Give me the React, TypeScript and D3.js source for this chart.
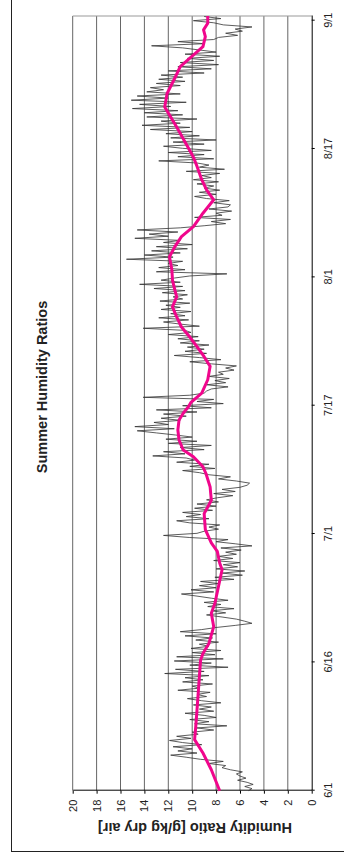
import React, { useRef, useEffect } from 'react';
import * as d3 from 'd3';

// hourly-ish humidity ratio, read at 6 hour steps from 6/1 00:00 (g/kg dry air)
const humidity: number[] = [
  5.3, 5.0, 5.6, 4.9, 5.4, 6.2, 5.5, 6.0, 6.3, 5.8, 6.8, 7.5, 7.2, 8.6, 7.4, 9.3,
  10.5, 11.8, 9.6, 11.2, 10.0, 11.6, 9.2, 10.8, 11.9, 10.1, 11.3, 9.5, 10.0, 8.2, 9.6, 7.1,
  9.8, 8.6, 10.2, 8.0, 9.0, 10.6, 8.2, 9.4, 8.4, 9.9, 7.6, 9.2, 10.4, 8.8, 9.6, 8.5,
  11.2, 9.4, 10.0, 8.3, 10.8, 9.1, 10.6, 8.6, 12.3, 9.0, 11.4, 7.0, 10.2, 8.4, 11.5, 7.4,
  11.3, 8.1, 10.0, 7.6, 10.1, 8.6, 9.4, 7.8, 9.7, 8.3, 10.6, 8.0, 11.0, 9.2, 8.0, 6.4,
  5.0, 5.6, 6.3, 7.5, 8.8, 7.2, 8.4, 6.5, 8.7, 7.6, 9.0, 7.0, 8.4, 9.6, 10.9, 8.2,
  10.1, 8.0, 9.4, 7.8, 9.3, 6.5, 8.1, 5.8, 7.5, 5.6, 8.0, 6.2, 7.4, 6.0, 8.2, 6.6,
  7.8, 6.3, 7.2, 5.9, 7.6, 5.0, 6.4, 8.0, 7.0, 10.2, 12.4, 9.6, 9.0, 7.8, 8.6, 7.7,
  10.2, 11.3, 8.6, 10.5, 9.3, 10.8, 8.3, 9.8, 8.0, 9.6, 7.8, 8.8, 7.9, 6.6, 8.2, 6.4,
  7.5, 6.0, 5.4, 5.2, 6.3, 7.8, 6.8, 8.6, 9.4, 10.8, 8.1, 10.2, 8.6, 11.3, 9.8, 10.5,
  13.3, 10.6, 12.4, 9.0, 11.0, 8.4, 12.0, 9.6, 12.2, 10.0, 11.4, 13.0, 14.6, 11.5, 14.8, 12.0,
  13.2, 11.0, 12.6, 10.5, 12.4, 9.6, 13.0, 8.4, 10.8, 7.4, 9.6, 8.2, 14.1, 10.2, 9.0, 8.8,
  8.4, 7.0, 8.8, 7.2, 8.1, 6.9, 8.6, 7.4, 7.8, 6.5, 7.2, 6.3, 8.4, 10.2, 7.6, 9.4,
  11.5, 8.8, 10.6, 9.0, 10.4, 8.6, 11.0, 9.4, 11.2, 9.5, 12.0, 10.1, 10.6, 14.1, 9.4, 11.0,
  12.4, 10.3, 12.8, 10.6, 11.8, 10.1, 12.6, 11.0, 12.2, 10.2, 12.7, 10.8, 11.6, 10.4, 12.5, 10.6,
  13.2, 10.8, 14.4, 11.0, 12.6, 11.5, 10.2, 7.1, 13.0, 10.6, 12.8, 11.2, 12.0, 10.8, 15.5, 11.6,
  14.0, 11.0, 13.4, 10.4, 13.0, 10.0, 12.4, 11.0, 14.8, 12.0, 13.6, 11.2, 14.6, 11.0, 9.0, 7.2,
  8.4, 6.8, 9.8, 7.5, 8.0, 6.7, 8.6, 7.0, 6.8, 8.2, 6.9, 8.8, 9.8, 8.0, 9.4, 7.7,
  9.0, 8.2, 9.6, 7.8, 9.9, 8.4, 9.2, 7.7, 10.5, 7.3, 9.4, 8.6, 9.6, 12.8, 8.2, 11.2,
  9.0, 12.0, 8.4, 10.8, 12.4, 9.0, 11.6, 8.0, 11.8, 9.4, 12.2, 10.0, 13.5, 10.2, 14.2, 11.0,
  12.6, 9.6, 13.8, 10.8, 14.0, 11.2, 15.0, 11.8, 14.4, 10.5, 15.1, 12.0, 14.6, 11.0, 13.8, 12.4,
  13.5, 11.0, 13.0, 10.6, 12.8, 10.8, 12.6, 9.0, 12.0, 8.4, 11.2, 7.8, 11.0, 8.2, 10.4, 7.7,
  10.6, 8.0, 9.4, 10.8, 13.4, 9.0, 11.2, 8.2, 7.8, 6.2, 7.2, 5.8, 6.4, 5.0, 7.4, 8.2,
  9.9, 7.6, 9.0,
];
const stepDays = 0.25;

// moving average (pink), days after 6/1
const avgDays: number[] = [
  0, 2.5, 4.5, 6.1, 7.7, 9.6, 11.6, 13.6, 15.6, 16.4, 17.6, 19.6, 21.2, 22.4, 24.4, 26.4,
  27.2, 28.6, 29.6, 31.2, 33.1, 33.9, 34.7, 36.3, 37.9, 38.7, 39.9, 40.7, 41.9, 43.1, 44.3,
  45.1, 45.9, 46.4, 47.5, 49.1, 50.7, 51.85, 53.05, 54.2, 55.4, 56.6, 57.8, 59.0, 59.8, 61.0,
  62.2, 63.8, 65.0, 66.2, 67.4, 69.0, 70.6, 71.8, 73.0, 74.6, 75.7, 77.0, 78.0, 79.3, 81.7,
  83.3, 85.3, 86.5, 87.7, 88.9, 90.1, 90.9, 91.7, 92.56,
];
const avgValues: number[] = [
  7.7, 8.4, 9.1, 9.8, 9.7, 9.6, 9.5, 9.4, 9.3, 9.1, 8.6, 8.2, 8.4, 8.1, 7.8, 7.5,
  7.7, 7.9, 8.4, 8.9, 9.0, 8.7, 8.4, 8.5, 8.85, 9.1, 9.9, 10.75, 11.1, 11.2, 11.1,
  10.75, 10.3, 10.1, 9.2, 8.7, 8.5, 9.0, 9.6, 10.2, 10.9, 11.3, 11.65, 11.3, 11.45, 11.65,
  11.7, 11.9, 11.45, 10.9, 9.9, 9.1, 8.2, 8.8, 9.2, 9.6, 9.9, 10.4, 10.8, 11.3, 12.3,
  12.1, 11.4, 11.0, 10.05, 9.1, 8.9, 9.05, 8.7, 8.7,
];

const dateTicks: number[] = [0, 15.33, 30.67, 46, 61.33, 76.67, 92];
const dateLabels: string[] = ['6/1', '6/16', '7/1', '7/17', '8/1', '8/17', '9/1'];
const valueTicks: number[] = [0, 2, 4, 6, 8, 10, 12, 14, 16, 18, 20];

const W = 344;
const H = 863;
const FONT = '"Liberation Sans", Arial, sans-serif';

const App = () => {
  const svgRef = useRef<SVGSVGElement>(null);

  useEffect(() => {
    document.body.style.margin = '0';
    const svg = d3.select(svgRef.current);
    svg.selectAll('*').remove();

    // chart is laid out landscape, then turned a quarter turn counter-clockwise
    const g = svg.append('g').attr('transform', `translate(0,${H}) rotate(-90)`);

    const x = d3.scaleLinear().domain([0, 92.56]).range([72.3, 847]);
    const y = d3.scaleLinear().domain([0, 20]).range([311.7, 72.7]);

    // outer frame
    g.append('rect')
      .attr('x', 11.5).attr('y', 11.5)
      .attr('width', 900).attr('height', 400)
      .attr('fill', 'white').attr('stroke', '#222').attr('stroke-width', 1);

    // gridlines
    g.append('g')
      .selectAll('line')
      .data(valueTicks.filter((v) => v > 0))
      .enter().append('line')
      .attr('x1', x(0)).attr('x2', x.range()[1])
      .attr('y1', (d) => y(d)).attr('y2', (d) => y(d))
      .attr('stroke', '#666').attr('stroke-width', 1);

    // plot area right edge
    g.append('line')
      .attr('x1', x.range()[1]).attr('x2', x.range()[1])
      .attr('y1', y(20)).attr('y2', y(0))
      .attr('stroke', '#999');

    const yAxis = g.append('g')
      .attr('transform', `translate(${x(0)},0)`)
      .call(d3.axisLeft(y).tickValues(valueTicks).tickSize(3).tickSizeOuter(0).tickPadding(6));
    yAxis.selectAll('text').attr('font-family', FONT).attr('font-size', 11).attr('fill', '#222');

    const xAxis = g.append('g')
      .attr('transform', `translate(0,${y(0)})`)
      .call(
        d3.axisBottom(x)
          .tickValues(dateTicks)
          .tickFormat((d, i) => dateLabels[i])
          .tickSize(3)
          .tickSizeOuter(0)
          .tickPadding(10)
      );
    xAxis.selectAll('text').attr('font-family', FONT).attr('font-size', 11).attr('fill', '#222');

    const raw = d3.line<number>()
      .x((d, i) => x(i * stepDays))
      .y((d) => y(d));
    g.append('path')
      .datum(humidity)
      .attr('d', raw)
      .attr('fill', 'none')
      .attr('stroke', '#333')
      .attr('stroke-width', 0.8);

    const avg = d3.line<number>()
      .x((d, i) => x(avgDays[i]))
      .y((d) => y(d));
    g.append('path')
      .datum(avgValues)
      .attr('d', avg)
      .attr('fill', 'none')
      .attr('stroke', '#F0068C')
      .attr('stroke-width', 3)
      .attr('stroke-linejoin', 'round');

    g.append('text')
      .attr('x', 476).attr('y', 47)
      .attr('text-anchor', 'middle')
      .attr('font-family', FONT).attr('font-weight', 'bold').attr('font-size', 14.5)
      .attr('fill', '#222')
      .text('Summer Humidity Ratios');

    g.append('text')
      .attr('transform', `translate(40,195) rotate(-90)`)
      .attr('text-anchor', 'middle')
      .attr('font-family', FONT).attr('font-weight', 'bold').attr('font-size', 14.5)
      .attr('fill', '#222')
      .text('Humidity Ratio [g/kg dry air]');
  }, []);

  return <svg ref={svgRef} width={W} height={H} style={{ display: 'block' }} />;
};

export default App;
